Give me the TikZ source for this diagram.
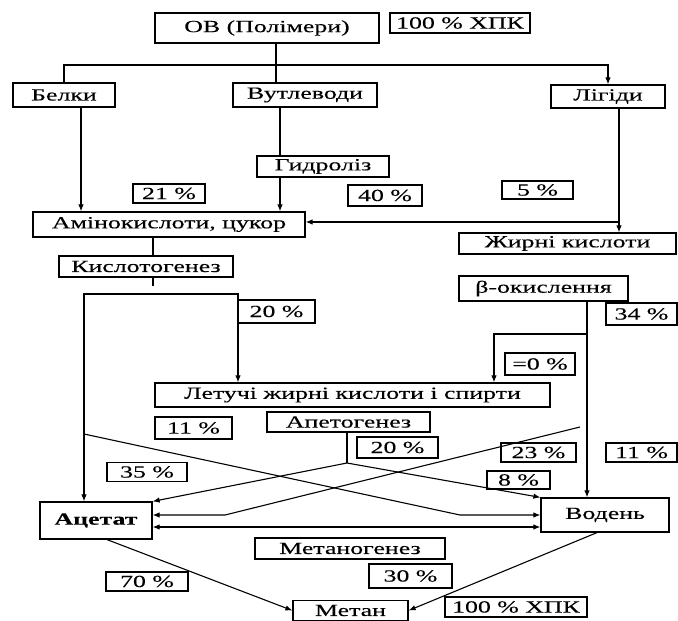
\documentclass[tikz,border=0pt]{standalone}
\usepackage{fontspec}
\setmainfont{Liberation Serif}[FakeStretch=1.52, FakeBold=0.2]
\usetikzlibrary{arrows.meta}

\begin{document}
\begin{tikzpicture}[x=1pt, y=-1pt, >={Latex[length=7pt,width=5.5pt]},
    every node/.style={font=\fontsize{17}{20}\selectfont},
    box/.style={draw, line width=1.2pt, inner sep=0pt, fill=white},
    flow/.style={line width=1.1pt}]
    \fill[white] (0,0) rectangle (678,621);
    \useasboundingbox (0,0) rectangle (678,621);
    % stages and shares
    \node[box, minimum width=224pt, minimum height=30pt] (ov) at (267,28) {ОВ (Полімери)};
    \node[box, minimum width=140pt, minimum height=20pt] (cod1) at (460,23) {100 \% ХПК};
    \node[box, minimum width=102pt, minimum height=24pt] (belky) at (64,95) {Белки};
    \node[box, minimum width=144pt, minimum height=24pt] (vutl) at (305,95) {Вутлеводи};
    \node[box, minimum width=114pt, minimum height=23pt] (lipidy) at (608,96.5) {Лігіди};
    \node[box, minimum width=132pt, minimum height=21pt] (hydr) at (323,166.5) {Гидроліз};
    \node[box, minimum width=72pt, minimum height=19pt] (p21) at (169,193.5) {21 \%};
    \node[box, minimum width=74pt, minimum height=21pt] (p40) at (385,195.5) {40 \%};
    \node[box, minimum width=71pt, minimum height=18pt] (p5) at (537.5,190) {5 \%};
    \node[box, minimum width=272pt, minimum height=25pt] (amino) at (169,224.5) {Амінокислоти, цукор};
    \node[box, minimum width=217pt, minimum height=21pt] (fatac) at (567.5,243.5) {Жирні кислоти};
    \node[box, minimum width=174pt, minimum height=21pt] (acidog) at (146,266.5) {Кислотогенез};
    \node[box, minimum width=169pt, minimum height=25pt] (betaox) at (543.5,288.5) {β-окислення};
    \node[box, minimum width=77pt, minimum height=23pt] (p20a) at (276.5,311.5) {20 \%};
    \node[box, minimum width=71pt, minimum height=22pt] (p34) at (641.5,314) {34 \%};
    \node[box, minimum width=70pt, minimum height=22pt] (p0) at (540,364) {=0 \%};
    \node[box, minimum width=395pt, minimum height=24pt] (vfa) at (352.5,395) {Летучі жирні кислоти і спирти};
    \node[box, minimum width=77pt, minimum height=22pt] (p11a) at (193.5,428) {11 \%};
    \node[box, minimum width=163pt, minimum height=20pt] (acetog) at (348.5,422) {Апетогенез};
    \node[box, minimum width=81pt, minimum height=21pt] (p20b) at (397.5,447.5) {20 \%};
    \node[box, minimum width=75pt, minimum height=19pt] (p23) at (538.5,452.5) {23 \%};
    \node[box, minimum width=71pt, minimum height=19pt] (p11b) at (641.5,452.5) {11 \%};
    \node[box, minimum width=80pt, minimum height=19pt] (p35) at (147,472) {35 \%};
    \node[box, minimum width=63pt, minimum height=18pt] (p8) at (518.5,480) {8 \%};
    \node[box, minimum width=112pt, minimum height=37pt] (acetat) at (96,520.5) {\bfseries Ацетат};
    \node[box, minimum width=128pt, minimum height=34pt] (hydrogen) at (605,515) {Водень};
    \node[box, minimum width=190pt, minimum height=21pt] (methanog) at (350,548.5) {Метаногенез};
    \node[box, minimum width=83pt, minimum height=24pt] (p30) at (410.5,576) {30 \%};
    \node[box, minimum width=82pt, minimum height=19pt] (p70) at (147,581.5) {70 \%};
    \node[box, minimum width=115pt, minimum height=20pt] (methane) at (350.5,610.5) {Метан};
    \node[box, minimum width=142pt, minimum height=20pt] (cod2) at (516,607) {100 \% ХПК};
    % bends and branch points
    \coordinate (jov) at (276,65);
    \coordinate (jl) at (64,65);
    \coordinate (jr) at (608,65);
    \coordinate (xbel) at (81,0);
    \coordinate (xvut) at (280,0);
    \coordinate (jlip) at (619,222);
    \coordinate (xam) at (153,0);
    \coordinate (tick) at (153,286);
    \coordinate (jk1) at (84,294);
    \coordinate (jk2) at (238,294);
    \coordinate (xbet) at (587,0);
    \coordinate (jb1) at (587,334);
    \coordinate (jb2) at (494,334);
    \coordinate (ja) at (347,463);
    \coordinate (jx1) at (84,434);
    \coordinate (jx2) at (460,515);
    \coordinate (jy1) at (580,427);
    \coordinate (jy2) at (225,515);
    \coordinate (dbl) at (0,527);
    \coordinate (xac) at (107,0);
    \coordinate (xvod) at (597,0);
    % flows
    \draw[flow] (jov |- ov.south) -- (jov |- vutl.north);
    \draw[flow, ->] (jl |- belky.north) -- (jl) -- (jr) -- (jr |- lipidy.north);
    \draw[flow, ->] (xbel |- belky.south) -- (xbel |- amino.north);
    \draw[flow] (xvut |- vutl.south) -- (xvut |- hydr.north);
    \draw[flow, ->] (xvut |- hydr.south) -- (xvut |- amino.north);
    \draw[flow, ->] (jlip |- lipidy.south) -- (jlip |- fatac.north);
    \draw[flow, ->] (jlip) -- (jlip -| amino.east);
    \draw[flow] (xam |- amino.south) -- (xam |- acidog.north);
    \draw[flow] (xam |- acidog.south) -- (tick);
    \draw[flow, <->] (jk1 |- acetat.north) -- (jk1) -- (jk2) -- (jk2 |- vfa.north);
    \draw[flow, ->] (xbet |- betaox.south) -- (xbet |- hydrogen.north);
    \draw[flow, ->] (jb1) -- (jb2) -- (jb2 |- vfa.north);
    \draw[flow] (ja |- acetog.south) -- (ja);
    \draw[flow, ->] (ja) -- (acetat.north east);
    \draw[flow, ->] (ja) -- (hydrogen.north west);
    \draw[flow, ->] (jx1) -- (jx2) -- (jx2 -| hydrogen.west);
    \draw[flow, ->] (jy1) -- (jy2) -- (jy2 -| acetat.east);
    \draw[flow, <->] (dbl -| acetat.east) -- (dbl -| hydrogen.west);
    \draw[flow, ->] (xac |- acetat.south) -- (methane.west);
    \draw[flow, ->] (xvod |- hydrogen.south) -- (methane.east);
\end{tikzpicture}
\end{document}
